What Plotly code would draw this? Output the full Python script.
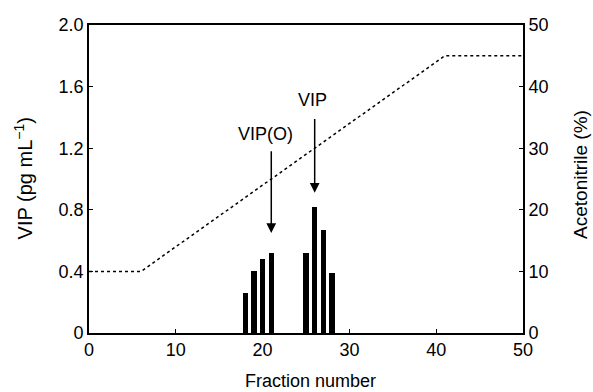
import plotly.graph_objects as go

# Data
fractions = [18, 19, 20, 21, 25, 26, 27, 28]
vip = [0.26, 0.40, 0.48, 0.52, 0.52, 0.82, 0.67, 0.39]

grad_x = [0, 6, 41, 50]
grad_acn = [10, 10, 45, 45]

left_ticks = [0, 0.4, 0.8, 1.2, 1.6, 2.0]
left_labels = ["0", "0.4", "0.8", "1.2", "1.6", "2.0"]
right_ticks = [0, 10, 20, 30, 40, 50]
x_ticks = [0, 10, 20, 30, 40, 50]

FONT = "Liberation Sans, Arial, sans-serif"

fig = go.Figure()
fig.add_trace(go.Scatter(x=grad_x, y=grad_acn, mode="lines", yaxis="y2",
                         line=dict(color="black", width=1.5, dash="dot"),
                         showlegend=False, hoverinfo="skip"))
fig.add_trace(go.Bar(x=fractions, y=vip, width=0.62, marker=dict(color="black", line=dict(width=0)),
                     showlegend=False))

axis_common = dict(showline=True, linecolor="black", linewidth=1.6, ticks="inside",
                   tickcolor="black", ticklen=4, tickwidth=1.4, showgrid=False, zeroline=False,
                   tickfont=dict(family=FONT, size=18, color="black"))

fig.update_layout(
    width=593, height=392,
    margin=dict(l=89, r=70, t=25, b=59),
    plot_bgcolor="white", paper_bgcolor="white",
    bargap=0,
    xaxis=dict(range=[0, 50], tickvals=x_ticks, mirror=True, **axis_common),
    yaxis=dict(range=[0, 2.0], tickvals=left_ticks, ticktext=left_labels, **axis_common),
    yaxis2=dict(range=[0, 50], tickvals=right_ticks, overlaying="y", side="right", **axis_common),
)

ann = []
# arrows
ann.append(dict(x=21, y=0.65, ax=21, ay=1.19, xref="x", yref="y", axref="x", ayref="y",
                text="", showarrow=True, arrowhead=2, arrowsize=1.3, arrowwidth=1.5, arrowcolor="black"))
ann.append(dict(x=26, y=0.91, ax=26, ay=1.40, xref="x", yref="y", axref="x", ayref="y",
                text="", showarrow=True, arrowhead=2, arrowsize=1.3, arrowwidth=1.5, arrowcolor="black"))
ann.append(dict(x=20.3, y=1.29, xref="x", yref="y", text="VIP(O)", showarrow=False,
                xanchor="center", yanchor="middle",
                font=dict(family=FONT, size=18, color="black")))
ann.append(dict(x=25.8, y=1.51, xref="x", yref="y", text="VIP", showarrow=False,
                xanchor="center", yanchor="middle",
                font=dict(family=FONT, size=18, color="black")))
# axis titles
ann.append(dict(x=0.51, y=-0.156, xref="paper", yref="paper", text="Fraction number", showarrow=False,
                xanchor="center", yanchor="middle", font=dict(family=FONT, size=18, color="black")))
ann.append(dict(x=-0.152, y=0.502, xref="paper", yref="paper", text="VIP (pg mL<sup>−1</sup>)",
                xanchor="center", yanchor="middle",
                showarrow=False, textangle=-90, font=dict(family=FONT, size=20, color="black")))
ann.append(dict(x=1.131, y=0.516, xref="paper", yref="paper", text="Acetonitrile (%)",
                xanchor="center", yanchor="middle",
                showarrow=False, textangle=-90, font=dict(family=FONT, size=19, color="black")))
fig.update_layout(annotations=ann)

fig.write_html("out.html")
